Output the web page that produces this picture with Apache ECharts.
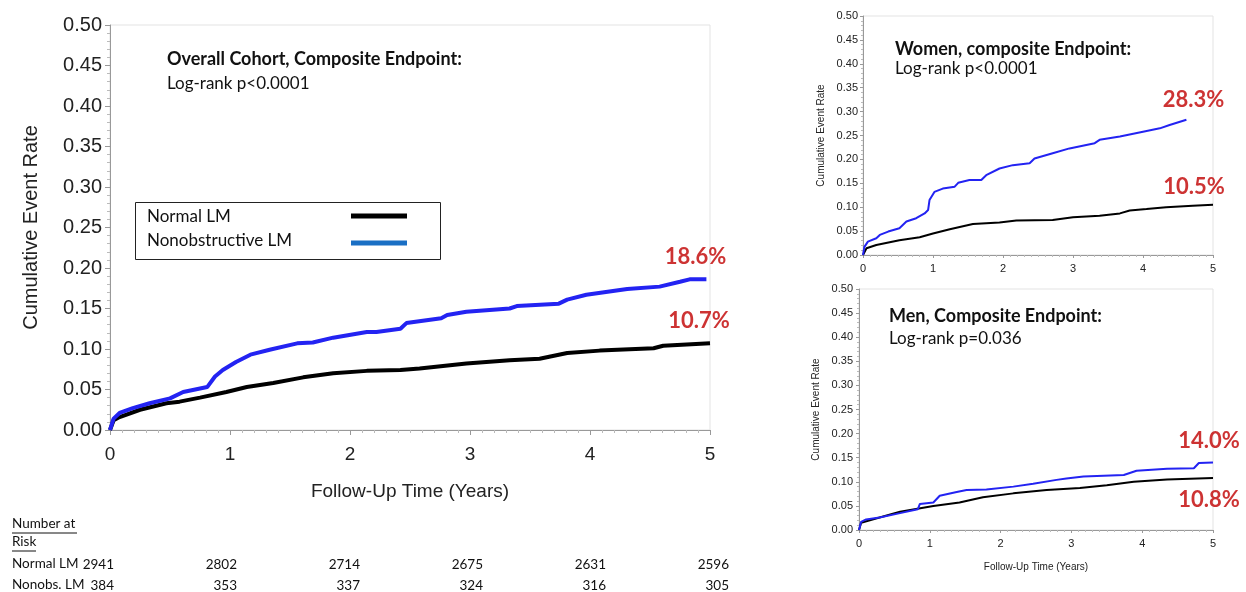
<!DOCTYPE html>
<html>
<head>
<meta charset="utf-8">
<script src="https://cdn.jsdelivr.net/npm/echarts@6/dist/echarts.min.js"></script>
<style>
  html, body { margin: 0; padding: 0; background: #fff; }
  #chart { width: 1246px; height: 592px; }
</style>
</head>
<body>
<div id="chart"></div>
<script>
// Kaplan-Meier style cumulative event rates, [years, rate]
const overallNormal = [[0,0],[0.03,0.012],[0.08,0.016],[0.25,0.025],[0.47,0.033],[0.58,0.035],[0.75,0.040],[0.97,0.047],[1.14,0.053],[1.36,0.058],[1.61,0.065],[1.86,0.070],[2.14,0.073],[2.42,0.074],[2.58,0.076],[2.97,0.082],[3.33,0.086],[3.58,0.088],[3.81,0.095],[4.08,0.098],[4.53,0.101],[4.61,0.104],[5.0,0.107]];
const overallNonobs = [[0,0],[0.03,0.014],[0.08,0.021],[0.19,0.027],[0.33,0.033],[0.5,0.039],[0.61,0.047],[0.81,0.053],[0.875,0.066],[0.94,0.074],[1.05,0.084],[1.17,0.093],[1.33,0.099],[1.56,0.107],[1.69,0.108],[1.86,0.114],[2.14,0.121],[2.22,0.121],[2.42,0.125],[2.47,0.132],[2.76,0.138],[2.81,0.142],[2.97,0.146],[3.33,0.150],[3.39,0.153],[3.74,0.156],[3.81,0.161],[3.97,0.167],[4.31,0.174],[4.58,0.177],[4.75,0.183],[4.83,0.186],[4.97,0.186]];
const womenNormal = [[0,0],[0.05,0.014],[0.19,0.021],[0.52,0.031],[0.81,0.037],[1.0,0.045],[1.24,0.054],[1.57,0.065],[1.95,0.068],[2.19,0.072],[2.71,0.073],[3.0,0.079],[3.38,0.082],[3.67,0.087],[3.81,0.093],[4.05,0.096],[4.33,0.100],[4.71,0.103],[5.0,0.105]];
const womenNonobs = [[0,0],[0.02,0.017],[0.07,0.028],[0.19,0.035],[0.24,0.042],[0.36,0.049],[0.52,0.056],[0.62,0.070],[0.76,0.077],[0.88,0.087],[0.93,0.094],[0.95,0.115],[1.02,0.132],[1.14,0.139],[1.31,0.143],[1.36,0.151],[1.52,0.157],[1.69,0.157],[1.76,0.167],[1.95,0.181],[2.14,0.188],[2.38,0.192],[2.45,0.202],[2.71,0.213],[2.95,0.223],[3.31,0.234],[3.38,0.241],[3.67,0.248],[4.0,0.258],[4.24,0.265],[4.38,0.272],[4.62,0.283]];
const menNormal = [[0,0],[0.03,0.015],[0.29,0.026],[0.58,0.038],[1.05,0.050],[1.42,0.057],[1.75,0.068],[2.18,0.076],[2.65,0.083],[3.12,0.087],[3.5,0.093],[3.88,0.100],[4.35,0.105],[5.0,0.108]];
const menNonobs = [[0,0],[0.03,0.017],[0.10,0.022],[0.29,0.026],[0.58,0.035],[0.83,0.043],[0.86,0.054],[1.05,0.057],[1.14,0.071],[1.38,0.079],[1.52,0.083],[1.80,0.084],[2.18,0.090],[2.46,0.096],[2.79,0.104],[2.93,0.107],[3.17,0.111],[3.74,0.114],[3.92,0.123],[4.35,0.127],[4.73,0.128],[4.80,0.139],[5.0,0.140]];

// Number at risk, yearly
const riskYears = [0, 1, 2, 3, 4, 5];
const riskNormal = [2941, 2802, 2714, 2675, 2631, 2596];
const riskNonobs = [384, 353, 337, 324, 316, 305];

const seriesNames = ['Normal LM', 'Nonobstructive LM'];

const BLACK = '#000000';
const BLUE = '#2323f2';
const LEGEND_BLUE = '#1a6fc4';
const RED = '#c00000';
const TICK_FONT = 'Liberation Sans, Arial, sans-serif';
const NOTE_FONT = 'Lato, "Open Sans", sans-serif';

const chart = echarts.init(document.getElementById('chart'));

function yAxisCfg(idx, fs, nameFs, nameGap, offset) {
  return {
    type: 'value', gridIndex: idx, min: 0, max: 0.5, interval: 0.05, offset: offset,
    name: 'Cumulative Event Rate', nameLocation: 'middle', nameGap: nameGap,
    nameTextStyle: { fontFamily: TICK_FONT, fontSize: nameFs, color: '#222' },
    axisLine: { show: true, lineStyle: { color: '#999', width: 1 } },
    axisTick: { show: true, length: idx === 0 ? 5 : 3, lineStyle: { color: '#999' } },
    minorTick: { show: true, splitNumber: 5, length: idx === 0 ? 3 : 2, lineStyle: { color: '#bbb' } },
    splitLine: { show: false },
    axisLabel: { fontFamily: TICK_FONT, fontSize: fs, color: '#222', margin: idx === 0 ? 5 : 4,
      formatter: v => v.toFixed(2) }
  };
}
function xAxisCfg(idx, fs, nameFs, withName, nameGap, offset) {
  return {
    type: 'value', gridIndex: idx, min: 0, max: 5, interval: 1, offset: offset,
    name: withName ? 'Follow-Up Time (Years)' : '', nameLocation: 'middle', nameGap: nameGap,
    nameTextStyle: { fontFamily: TICK_FONT, fontSize: nameFs, color: '#222' },
    axisLine: { show: true, lineStyle: { color: '#999', width: 1 } },
    axisTick: { show: true, length: idx === 0 ? 5 : 3, lineStyle: { color: '#999' } },
    minorTick: { show: true, splitNumber: 10, length: idx === 0 ? 3 : 2, lineStyle: { color: '#bbb' } },
    splitLine: { show: false },
    axisLabel: { fontFamily: TICK_FONT, fontSize: fs, color: '#222', margin: idx === 0 ? 10 : 5 }
  };
}
function curve(name, data, idx, color, width) {
  return {
    type: 'line', name: name, xAxisIndex: idx, yAxisIndex: idx, data: data,
    showSymbol: false, symbol: 'none', silent: true,
    lineStyle: { color: color, width: width }, z: name === seriesNames[1] ? 3 : 2
  };
}
function pct(v) { return (v * 100).toFixed(1) + '%'; }
// Red end-of-follow-up rate written above (or below) the last point of a curve
function endLabel(idx, data, position, offset) {
  const last = data[data.length - 1];
  return {
    type: 'scatter', xAxisIndex: idx, yAxisIndex: idx, silent: true,
    data: [last], symbolSize: 0,
    label: {
      show: true, position: position, formatter: pct(last[1]), color: RED,
      fontFamily: NOTE_FONT, fontWeight: 'bold', fontSize: 22, offset: offset
    }
  };
}

const option = {
  animation: false,
  grid: [
    { left: 110, top: 25, width: 600, height: 405, show: true, borderColor: '#e3e3e3', borderWidth: 1 },
    { left: 863, top: 16, width: 350, height: 239, show: true, borderColor: '#e3e3e3', borderWidth: 1 },
    { left: 859, top: 289, width: 354, height: 241, show: true, borderColor: '#e3e3e3', borderWidth: 1 }
  ],
  xAxis: [xAxisCfg(0, 19, 19, true, 47, 5), xAxisCfg(1, 11, 10, false, 22, 3), xAxisCfg(2, 11, 10, true, 29, 3)],
  yAxis: [yAxisCfg(0, 20, 20, 66, 3), yAxisCfg(1, 11, 10, 36, 1), yAxisCfg(2, 11, 10, 36, 2)],
  series: [
    curve(seriesNames[0], overallNormal, 0, BLACK, 4),
    curve(seriesNames[1], overallNonobs, 0, BLUE, 4),
    curve(seriesNames[0], womenNormal, 1, BLACK, 2),
    curve(seriesNames[1], womenNonobs, 1, BLUE, 2),
    curve(seriesNames[0], menNormal, 2, BLACK, 2),
    curve(seriesNames[1], menNonobs, 2, BLUE, 2),
    endLabel(0, overallNonobs, 'top', [-11, -6]),
    endLabel(0, overallNormal, 'top', [-11, -6]),
    endLabel(1, womenNonobs, 'top', [7, -4]),
    endLabel(1, womenNormal, 'top', [-19, -2]),
    endLabel(2, menNonobs, 'top', [-4, -6]),
    endLabel(2, menNormal, 'bottom', [-4, 6])
  ]
};
chart.setOption(option);

// Panel annotations, legend box and number-at-risk table
const note = (x, y, text, bold, size) => ({
  type: 'text', left: x, top: y, silent: true,
  style: { text: text, fill: '#111', font: (bold ? 'bold ' : '') + size + 'px ' + NOTE_FONT }
});
const graphics = [
  note(167, 50, 'Overall Cohort, Composite Endpoint:', true, 18),
  note(167, 75, 'Log-rank p<0.0001', false, 17),
  note(895, 40, 'Women, composite Endpoint:', true, 18),
  note(895, 60, 'Log-rank p<0.0001', false, 17),
  note(889, 307, 'Men, Composite Endpoint:', true, 18),
  note(889, 330, 'Log-rank p=0.036', false, 17),
  // legend
  { type: 'rect', shape: { x: 135.5, y: 202.5, width: 305, height: 57 }, silent: true,
    style: { fill: '#fff', stroke: '#222', lineWidth: 1 } },
  note(147, 208, seriesNames[0], false, 17),
  note(147, 232, seriesNames[1], false, 17),
  { type: 'line', shape: { x1: 351, y1: 216, x2: 407, y2: 216 }, silent: true,
    style: { stroke: BLACK, lineWidth: 5 } },
  { type: 'line', shape: { x1: 351, y1: 243, x2: 407, y2: 243 }, silent: true,
    style: { stroke: LEGEND_BLUE, lineWidth: 5 } }
];

const tableFont = '13.5px ' + NOTE_FONT;
const colStart = 114, colStep = 123;
graphics.push({ type: 'text', left: 12, top: 517, silent: true,
  style: { text: 'Number at', fill: '#111', font: tableFont } });
graphics.push({ type: 'line', shape: { x1: 12, y1: 533, x2: 77, y2: 533 }, silent: true,
  style: { stroke: '#111', lineWidth: 1 } });
graphics.push({ type: 'text', left: 12, top: 535, silent: true,
  style: { text: 'Risk', fill: '#111', font: tableFont } });
graphics.push({ type: 'line', shape: { x1: 12, y1: 551, x2: 36, y2: 551 }, silent: true,
  style: { stroke: '#111', lineWidth: 1 } });
graphics.push({ type: 'text', left: 12, top: 557, silent: true,
  style: { text: 'Normal LM', fill: '#111', font: tableFont } });
graphics.push({ type: 'text', left: 12, top: 578, silent: true,
  style: { text: 'Nonobs. LM', fill: '#111', font: tableFont } });
riskYears.forEach((yr, i) => {
  const xr = colStart + colStep * i;
  graphics.push({ type: 'text', x: xr, y: 565, silent: true,
    style: { text: String(riskNormal[i]), fill: '#111', font: tableFont, textAlign: 'right', textVerticalAlign: 'middle' } });
  graphics.push({ type: 'text', x: xr, y: 586, silent: true,
    style: { text: String(riskNonobs[i]), fill: '#111', font: tableFont, textAlign: 'right', textVerticalAlign: 'middle' } });
});
chart.setOption({ graphic: graphics });
</script>
</body>
</html>
